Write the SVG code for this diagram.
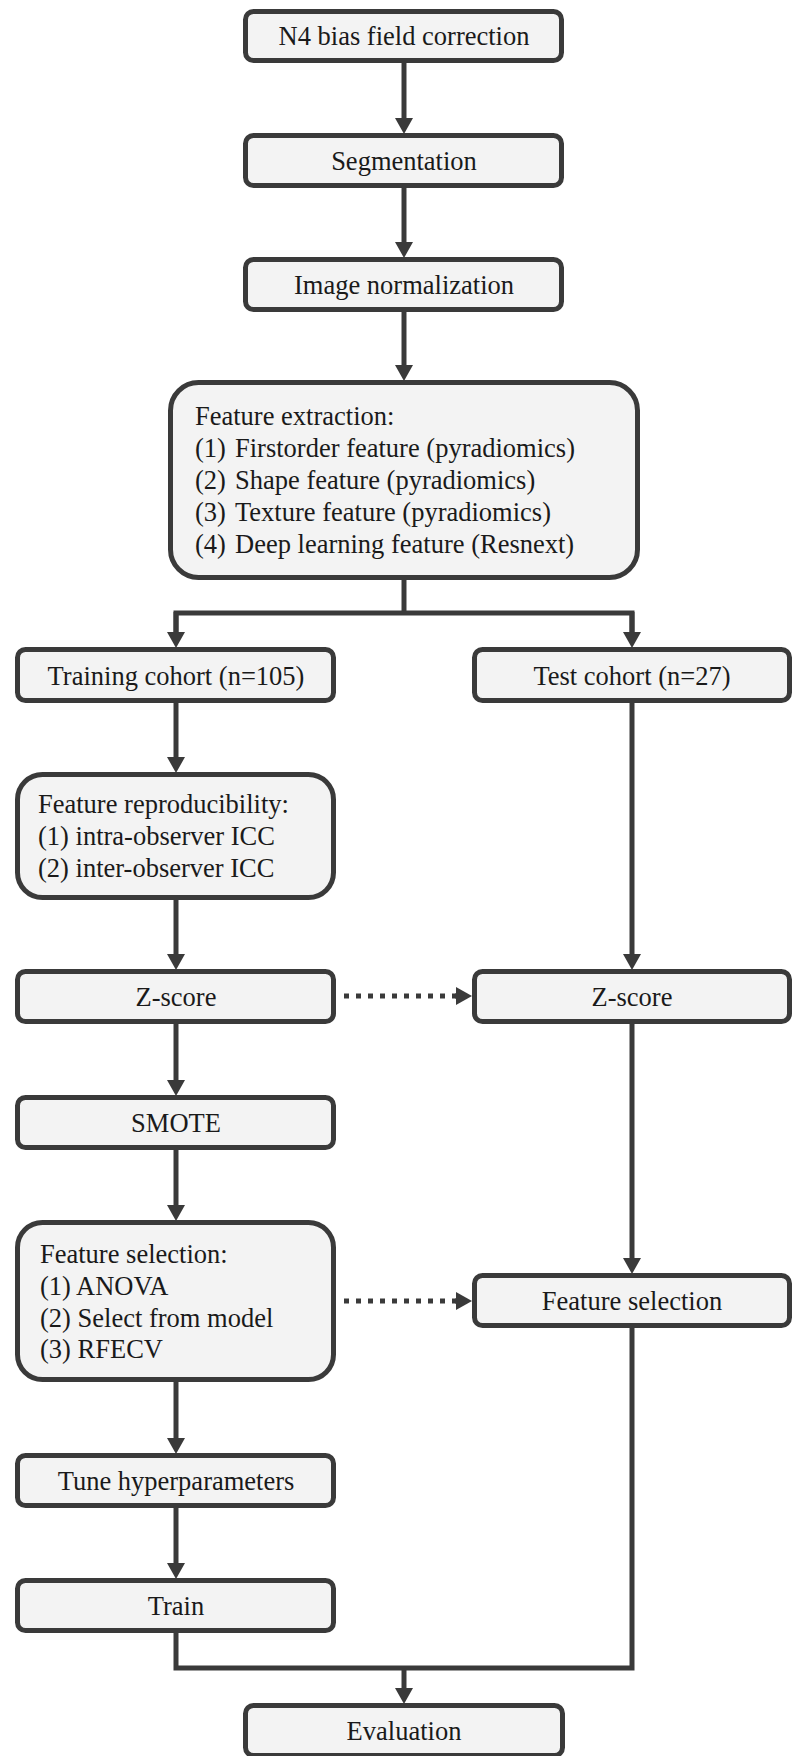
<svg xmlns="http://www.w3.org/2000/svg" width="795" height="1756" viewBox="0 0 795 1756">
<defs>
<style>
.box{fill:#f3f3f3;stroke:#3a3a3a;stroke-width:5}
.t{font-family:"Liberation Serif","Times New Roman",serif;font-size:26.5px;fill:#1a1a1a}
.c{text-anchor:middle}
.ln{fill:none;stroke:#3a3a3a;stroke-width:5}
.dot{fill:none;stroke:#3a3a3a;stroke-width:5;stroke-dasharray:5 7}
</style>
<marker id="ah" markerUnits="userSpaceOnUse" markerWidth="18" markerHeight="18" refX="0" refY="9" orient="auto" viewBox="0 0 16 18">
<path d="M0,0 L16,9 L0,18 z" fill="#3a3a3a"/>
</marker>
</defs>
<rect width="795" height="1756" fill="#ffffff"/>
<g id="connectors">
<path class="ln" d="M404,63 V118" marker-end="url(#ah)"/>
<path class="ln" d="M404,188 V242" marker-end="url(#ah)"/>
<path class="ln" d="M404,312 V365" marker-end="url(#ah)"/>
<path class="ln" d="M404,580 V613"/>
<path class="ln" d="M176,632 V613 H632 V632"/>
<path class="ln" d="M176,612 V632" marker-end="url(#ah)"/>
<path class="ln" d="M632,612 V632" marker-end="url(#ah)"/>
<path class="ln" d="M176,703 V757" marker-end="url(#ah)"/>
<path class="ln" d="M176,900 V954" marker-end="url(#ah)"/>
<path class="ln" d="M632,703 V954" marker-end="url(#ah)"/>
<path class="dot" d="M344,996 H456"/>
<path class="ln" d="M455,996 H456" marker-end="url(#ah)"/>
<path class="ln" d="M176,1024 V1080" marker-end="url(#ah)"/>
<path class="ln" d="M632,1024 V1258" marker-end="url(#ah)"/>
<path class="ln" d="M176,1150 V1205" marker-end="url(#ah)"/>
<path class="dot" d="M344,1301 H456"/>
<path class="ln" d="M455,1301 H456" marker-end="url(#ah)"/>
<path class="ln" d="M176,1382 V1438" marker-end="url(#ah)"/>
<path class="ln" d="M176,1508 V1563" marker-end="url(#ah)"/>
<path class="ln" d="M176,1633 V1668 H632 V1328"/>
<path class="ln" d="M404,1668 V1688" marker-end="url(#ah)"/>
</g>
<g id="n4">
<rect class="box" x="245.5" y="11.5" width="316" height="49" rx="8"/>
<text class="t c" x="404" y="45">N4 bias field correction</text>
</g>
<g id="segmentation">
<rect class="box" x="245.5" y="135.5" width="316" height="50" rx="8"/>
<text class="t c" x="404" y="170">Segmentation</text>
</g>
<g id="normalization">
<rect class="box" x="245.5" y="259.5" width="316" height="50" rx="8"/>
<text class="t c" x="404" y="294">Image normalization</text>
</g>
<g id="extraction">
<rect class="box" x="170.5" y="382.5" width="467" height="195" rx="28"/>
<text class="t" x="195" y="425">Feature extraction:</text>
<text class="t" y="457"><tspan x="195">(1)</tspan><tspan x="235">Firstorder feature (pyradiomics)</tspan></text>
<text class="t" y="489"><tspan x="195">(2)</tspan><tspan x="235">Shape feature (pyradiomics)</tspan></text>
<text class="t" y="521"><tspan x="195">(3)</tspan><tspan x="235">Texture feature (pyradiomics)</tspan></text>
<text class="t" y="553"><tspan x="195">(4)</tspan><tspan x="235">Deep learning feature (Resnext)</tspan></text>
</g>
<g id="training">
<rect class="box" x="17.5" y="649.5" width="316" height="51" rx="8"/>
<text class="t c" x="176" y="685">Training cohort (n=105)</text>
</g>
<g id="test">
<rect class="box" x="474.5" y="649.5" width="315" height="51" rx="8"/>
<text class="t c" x="632" y="685">Test cohort (n=27)</text>
</g>
<g id="reproducibility">
<rect class="box" x="17.5" y="774.5" width="316" height="123" rx="25"/>
<text class="t" x="38" y="813">Feature reproducibility:</text>
<text class="t" x="38" y="845">(1) intra-observer ICC</text>
<text class="t" x="38" y="877">(2) inter-observer ICC</text>
</g>
<g id="zscore-train">
<rect class="box" x="17.5" y="971.5" width="316" height="50" rx="8"/>
<text class="t c" x="176" y="1006">Z-score</text>
</g>
<g id="zscore-test">
<rect class="box" x="474.5" y="971.5" width="315" height="50" rx="8"/>
<text class="t c" x="632" y="1006">Z-score</text>
</g>
<g id="smote">
<rect class="box" x="17.5" y="1097.5" width="316" height="50" rx="8"/>
<text class="t c" x="176" y="1132">SMOTE</text>
</g>
<g id="selection-train">
<rect class="box" x="17.5" y="1222.5" width="316" height="157" rx="25"/>
<text class="t" x="40" y="1263">Feature selection:</text>
<text class="t" x="40" y="1295">(1) ANOVA</text>
<text class="t" x="40" y="1327">(2) Select from model</text>
<text class="t" x="40" y="1358">(3) RFECV</text>
</g>
<g id="selection-test">
<rect class="box" x="474.5" y="1275.5" width="315" height="50" rx="8"/>
<text class="t c" x="632" y="1310">Feature selection</text>
</g>
<g id="tune">
<rect class="box" x="17.5" y="1455.5" width="316" height="50" rx="8"/>
<text class="t c" x="176" y="1490">Tune hyperparameters</text>
</g>
<g id="train">
<rect class="box" x="17.5" y="1580.5" width="316" height="50" rx="8"/>
<text class="t c" x="176" y="1615">Train</text>
</g>
<g id="evaluation">
<rect class="box" x="245.5" y="1705.5" width="317" height="50" rx="8"/>
<text class="t c" x="404" y="1740">Evaluation</text>
</g>
</svg>
